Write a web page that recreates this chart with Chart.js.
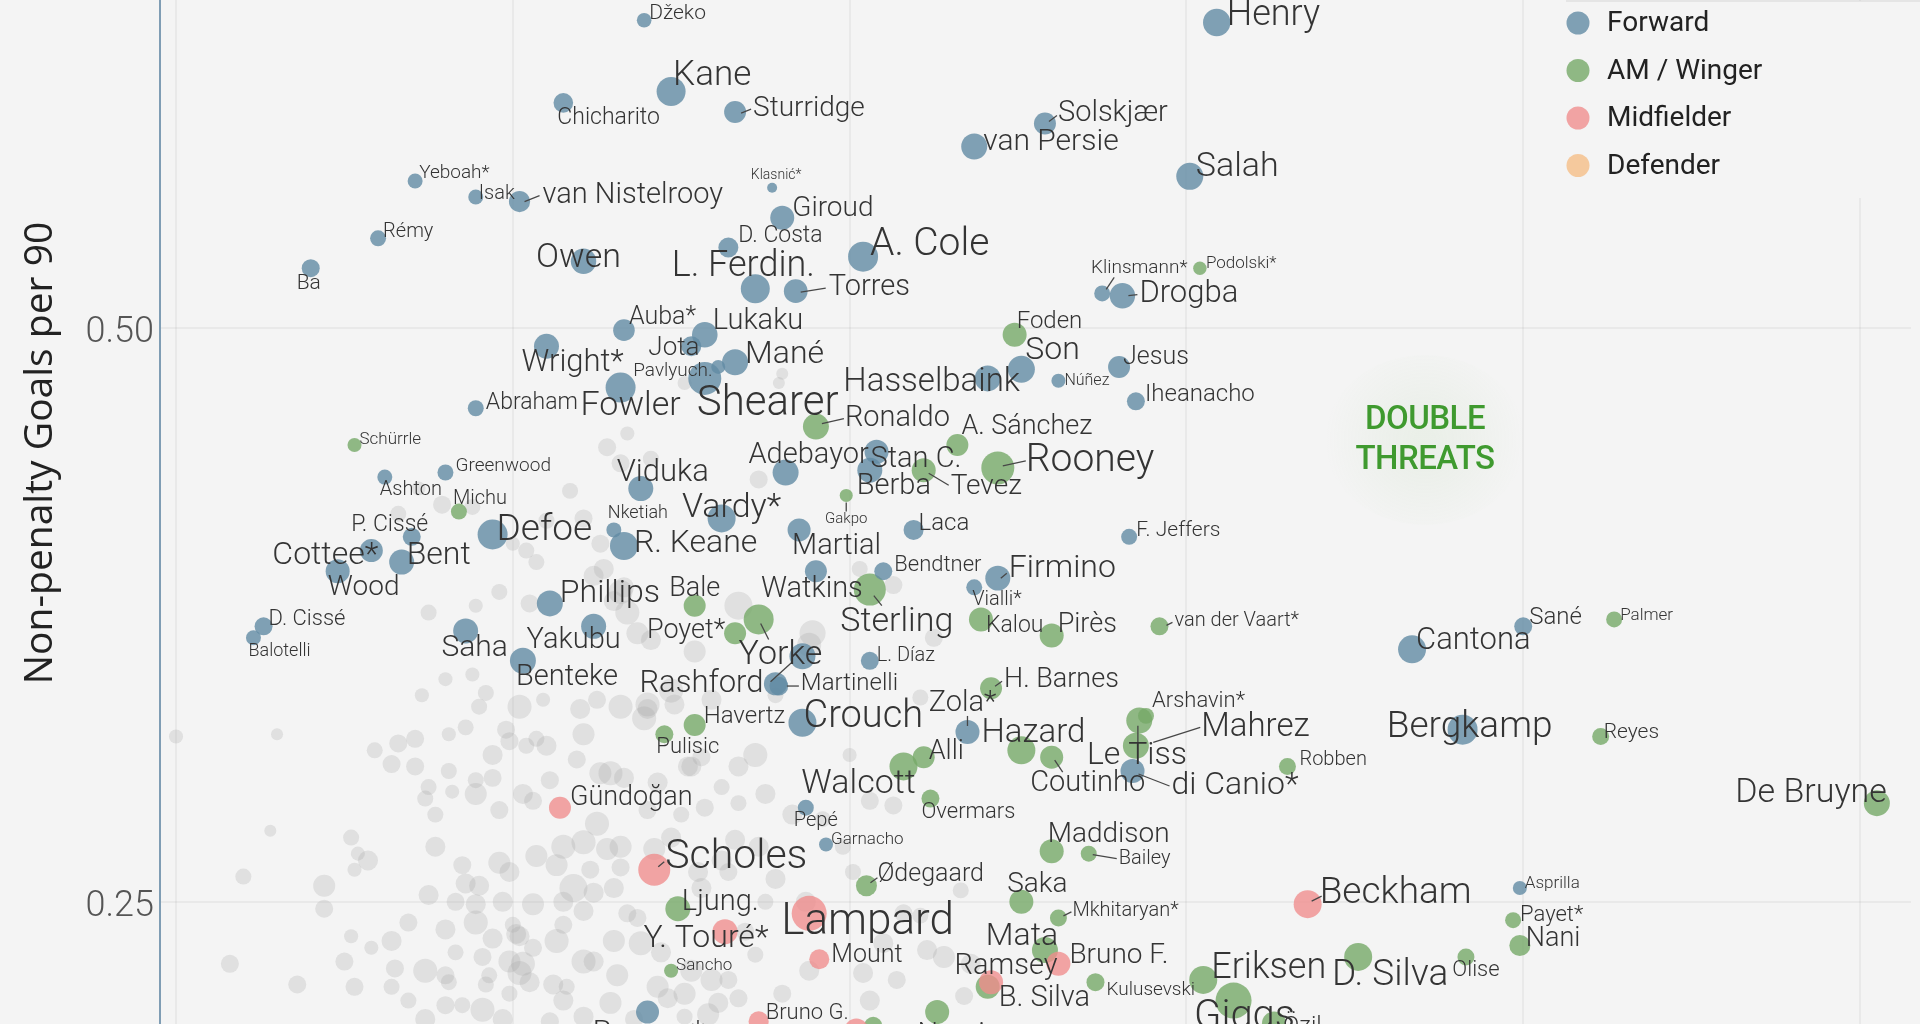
<!DOCTYPE html>
<html><head><meta charset="utf-8">
<script src="https://cdn.jsdelivr.net/npm/chart.js@4/dist/chart.umd.min.js"></script>
<style>
html,body{margin:0;padding:0;background:#f4f4f4;overflow:hidden;width:1920px;height:1024px;}
#wrap{position:absolute;left:0;top:-118px;width:1920px;height:1142px;}
</style></head><body>
<div id="wrap"><canvas id="c"></canvas></div>
<script>
// ---------- DATA ----------
const playerNames = [
'Džeko','Henry','Chicharito','Kane','Sturridge','Solskjær','van Persie','Salah','Yeboah*','Isak',
'van Nistelrooy','Klasnić*','Giroud','Rémy','D. Costa','A. Cole','Ba','Owen','L. Ferdin.','Torres',
'Klinsmann*','Podolski*','Drogba','Auba*','Lukaku','Jota','Wright*','Pavlyuch.','Shearer','Mané',
'Fowler','Abraham','Schürrle','Greenwood','Ashton','Michu','P. Cissé','Cottee*','Bent','Wood',
'Defoe','D. Cissé','Balotelli','Nketiah','Viduka','Vardy*','R. Keane','Adebayor','Gakpo','Martial',
'Watkins','Laca','F. Jeffers','Bendtner','Firmino','Vialli*','Sterling','Bale','Phillips','Yakubu',
'Saha','Benteke','Poyet*','','Yorke','Rashford','Martinelli','L. Díaz','Kalou','Pirès',
'van der Vaart*','H. Barnes','Zola*','Crouch','Havertz','Pulisic','Hazard','Alli','Walcott','Coutinho',
'Arshavin*','Mahrez','Le Tiss','di Canio*','Robben','Bergkamp','Cantona','Sané','Palmer','Reyes',
'De Bruyne','Beckham','Asprilla','Payet*','Nani','Olise','D. Silva','Eriksen','Giggs','Özil',
'Kulusevski','Ramsey','B. Silva','Mata','Bruno F.','Mkhitaryan*','Saka','Maddison','Bailey','Ødegaard',
'Overmars','Pepé','Garnacho','Gündoğan','Scholes','Ljung.','Y. Touré*','Lampard','Mount','Sancho',
'Rooney*','Bruno G.','Nasri','','','Foden','Son','Hasselbaink','Núñez','Jesus',
'Iheanacho','Ronaldo','A. Sánchez','Rooney','Stan C.','Berba','Tevez'
];
const playerRoles = [
'F','F','F','F','F','F','F','F','F','F',
'F','F','F','F','F','F','F','F','F','F',
'F','W','F','F','F','F','F','F','F','F',
'F','F','W','F','F','W','F','F','F','F',
'F','F','F','F','F','F','F','F','W','F',
'F','F','F','F','F','F','W','W','F','F',
'F','F','W','W','F','F','F','F','W','W',
'W','W','F','F','W','W','W','W','W','W',
'W','W','W','F','W','F','F','F','W','W',
'W','M','F','W','W','W','W','W','W','W',
'W','M','W','W','M','W','W','W','W','W',
'W','F','F','M','M','W','M','M','M','W',
'F','M','W','M','W','W','F','F','F','F',
'F','W','W','W','F','F','W'
];
const assistsPer90 = [
0.139,0.309,0.115,0.147,0.166,0.258,0.237,0.301,0.071,0.089,
0.102,0.177,0.180,0.060,0.164,0.204,0.040,0.121,0.172,0.184,
0.275,0.304,0.281,0.133,0.157,0.153,0.110,0.161,0.157,0.166,
0.132,0.089,0.053,0.080,0.062,0.084,0.070,0.058,0.067,0.048,
0.094,0.026,0.023,0.130,0.138,0.162,0.133,0.181,0.199,0.185,
0.190,0.219,0.283,0.210,0.244,0.237,0.206,0.154,0.111,0.124,
0.086,0.103,0.166,0.173,0.186,0.178,0.179,0.206,0.239,0.260,
0.292,0.242,0.235,0.186,0.154,0.145,0.251,0.222,0.216,0.260,
0.288,0.286,0.285,0.284,0.330,0.382,0.367,0.400,0.427,0.423,
0.505,0.336,0.399,0.397,0.399,0.383,0.351,0.305,0.314,0.326,
0.273,0.242,0.241,0.258,0.262,0.262,0.251,0.260,0.271,0.205,
0.224,0.187,0.193,0.114,0.142,0.149,0.163,0.188,0.191,0.147,
0.140,0.173,0.226,0.202,0.207,0.249,0.251,0.241,0.262,0.280,
0.285,0.190,0.232,0.244,0.208,0.206,0.222
];
const npGoalsPer90 = [
0.634,0.633,0.598,0.603,0.594,0.589,0.579,0.566,0.564,0.557,
0.555,0.561,0.548,0.539,0.535,0.531,0.526,0.529,0.517,0.516,
0.515,0.526,0.514,0.499,0.497,0.492,0.492,0.483,0.478,0.485,
0.474,0.465,0.449,0.437,0.435,0.420,0.409,0.403,0.398,0.394,
0.410,0.370,0.365,0.412,0.430,0.417,0.405,0.437,0.427,0.412,
0.394,0.412,0.409,0.394,0.391,0.387,0.386,0.379,0.380,0.370,
0.368,0.355,0.367,0.373,0.357,0.345,0.344,0.355,0.373,0.366,
0.370,0.343,0.324,0.328,0.327,0.323,0.316,0.313,0.309,0.313,
0.331,0.329,0.318,0.307,0.309,0.325,0.360,0.370,0.373,0.322,
0.293,0.249,0.256,0.242,0.231,0.226,0.226,0.216,0.207,0.197,
0.215,0.215,0.213,0.229,0.223,0.243,0.250,0.272,0.271,0.257,
0.295,0.291,0.275,0.291,0.264,0.247,0.237,0.245,0.225,0.220,
0.202,0.198,0.202,0.194,0.196,0.497,0.482,0.478,0.477,0.483,
0.468,0.457,0.449,0.439,0.446,0.438,0.438
];
const appearances = [
103,362,185,405,233,233,326,352,108,108,
217,48,278,123,193,434,156,311,405,270,
123,87,311,225,316,193,301,95,525,326,
434,123,95,123,108,123,156,255,301,278,
434,156,108,108,301,378,378,326,82,255,
233,193,123,156,301,123,494,233,326,301,
301,326,233,434,326,260,170,156,278,278,
156,233,278,378,233,156,378,233,378,255,
123,326,326,278,139,434,378,156,123,139,
326,378,95,123,213,139,378,378,625,278,
156,278,278,326,278,139,278,278,123,213,
156,123,95,233,494,301,301,590,193,95,
255,193,278,278,156,278,352,326,95,233,
156,326,233,525,278,301,278
];
const otherAssistsPer90 = [
0.000,0.030,0.059,0.066,0.071,0.081,0.086,0.064,0.071,0.081,0.075,0.089,0.096,0.073,0.080,0.088,0.092,0.090,0.098,0.094,
0.099,0.094,0.089,0.089,0.082,0.075,0.074,0.077,0.096,0.103,0.111,0.106,0.104,0.110,0.107,0.119,0.121,0.120,0.125,0.132,
0.129,0.133,0.109,0.102,0.028,0.052,0.054,0.057,0.053,0.020,0.044,0.044,0.077,0.085,0.086,0.090,0.096,0.099,0.107,0.113,
0.115,0.121,0.125,0.132,0.132,0.123,0.118,0.124,0.075,0.083,0.089,0.097,0.106,0.115,0.121,0.069,0.080,0.089,0.100,0.102,
0.094,0.115,0.113,0.130,0.064,0.052,0.058,0.050,0.065,0.074,0.083,0.091,0.099,0.103,0.121,0.131,0.016,0.036,0.053,0.064,
0.069,0.080,0.081,0.092,0.093,0.102,0.105,0.116,0.115,0.080,0.085,0.091,0.099,0.074,0.111,0.097,0.104,0.107,0.100,0.126,
0.127,0.124,0.105,0.134,0.132,0.139,0.147,0.140,0.126,0.143,0.153,0.156,0.162,0.157,0.167,0.172,0.175,0.150,0.140,0.142,
0.147,0.166,0.164,0.155,0.156,0.175,0.169,0.172,0.128,0.130,0.134,0.137,0.138,0.144,0.153,0.143,0.124,0.146,0.161,0.167,
0.151,0.106,0.101,0.112,0.121,0.129,0.136,0.158,0.164,0.213,0.225,0.221,0.200,0.189,0.188,0.154,0.141,0.140,0.148,0.159,
0.178,0.167,0.152,0.183,0.192,0.206,0.213,0.198,0.173,0.162,0.178,0.187,0.201,0.233,0.216,0.221,0.210,0.223,0.228,0.236,
0.214,0.204,0.188,0.159,0.151,0.180,0.206,0.234,0.134,0.128,0.141,0.132,0.117,0.173,0.180,0.179,0.151,0.110,0.121,0.133,
0.167,0.137,0.130,0.079,0.072,0.066,0.088,0.203
];
const otherNpGoalsPer90 = [
0.322,0.323,0.316,0.319,0.321,0.323,0.326,0.310,0.309,0.307,0.376,0.379,0.385,0.340,0.347,0.349,0.341,0.335,0.325,0.314,
0.320,0.304,0.303,0.297,0.298,0.300,0.295,0.288,0.290,0.297,0.303,0.294,0.318,0.318,0.321,0.312,0.323,0.334,0.338,0.335,
0.306,0.304,0.338,0.335,0.281,0.278,0.271,0.268,0.264,0.261,0.257,0.247,0.274,0.266,0.258,0.257,0.267,0.263,0.270,0.266,
0.274,0.276,0.284,0.274,0.265,0.264,0.256,0.254,0.253,0.250,0.249,0.250,0.249,0.250,0.246,0.241,0.238,0.241,0.240,0.235,
0.234,0.240,0.233,0.233,0.233,0.235,0.230,0.224,0.221,0.220,0.228,0.226,0.224,0.223,0.224,0.218,0.223,0.214,0.213,0.213,
0.207,0.218,0.215,0.214,0.218,0.219,0.215,0.213,0.207,0.205,0.205,0.203,0.210,0.199,0.198,0.199,0.403,0.398,0.406,0.406,
0.395,0.392,0.380,0.376,0.385,0.330,0.342,0.336,0.306,0.302,0.309,0.313,0.300,0.291,0.293,0.314,0.297,0.288,0.290,0.273,
0.278,0.277,0.263,0.263,0.256,0.250,0.237,0.227,0.273,0.256,0.245,0.243,0.232,0.228,0.220,0.213,0.224,0.208,0.206,0.208,
0.200,0.230,0.236,0.214,0.200,0.206,0.199,0.201,0.216,0.388,0.365,0.339,0.314,0.367,0.362,0.359,0.364,0.334,0.336,0.338,
0.340,0.309,0.309,0.288,0.286,0.294,0.292,0.274,0.274,0.268,0.260,0.250,0.263,0.255,0.245,0.244,0.232,0.229,0.226,0.223,
0.216,0.219,0.220,0.216,0.210,0.210,0.207,0.209,0.454,0.448,0.443,0.441,0.429,0.434,0.480,0.476,0.476,0.416,0.417,0.387,
0.379,0.367,0.381,0.423,0.430,0.419,0.422,0.395
];
const otherAppearances = [
95,69,123,156,156,95,123,156,156,123,123,95,123,95,95,95,123,123,156,193,
156,156,123,233,95,123,123,123,156,193,156,156,123,193,123,156,233,193,156,278,
278,193,95,278,69,123,95,193,95,123,233,156,193,156,193,193,233,193,233,233,
278,278,278,233,156,156,378,193,193,156,193,193,233,193,193,156,193,278,123,193,
193,156,278,233,193,95,95,156,156,278,123,156,233,278,278,233,156,156,156,123,
123,156,123,123,123,278,193,123,193,156,123,278,123,193,156,193,123,123,95,156,
193,193,156,278,278,278,278,278,233,193,193,156,123,156,123,278,193,123,156,233,
193,193,156,193,193,123,156,123,233,193,156,156,278,193,233,233,193,193,193,156,
123,156,193,193,193,233,156,233,156,156,156,123,95,326,278,233,193,193,193,193,
123,193,193,193,123,156,156,123,193,193,193,193,123,123,156,123,193,193,233,193,
156,193,193,233,233,156,193,156,95,156,123,156,123,156,69,69,95,123,156,193,
378,233,193,156,95,123,123,123
];
const roleCodes = ['F','W','M','D'];
const legendLabels = ['Forward','AM / Winger','Midfielder','Defender'];
const yTickValues = [0.25, 0.50];
const axisTitle = 'Non-penalty Goals per 90';
const annotationLines = ['DOUBLE','THREATS'];

// ---------- STYLE / LAYOUT (not data) ----------
const roleColors = {F:'rgba(98,139,164,0.8)', W:'rgba(117,169,104,0.8)', M:'rgba(240,140,140,0.78)', D:'rgba(245,190,135,0.8)'};
const otherColor = 'rgba(165,165,165,0.25)';
// [dx, dy, align, fontSize, leader]
const labelLayout = [
[5,-6,'l',21],[10,-7,'l',36],[-6,15,'l',23],[2,-15,'l',35],[18,-3,'l',28,[6,1,16,-3]],[13,-10,'l',29,[4,-2,12,-8]],[9,-4,'l',30],[6,-9,'l',34],[4,-8,'l',19],[3,-3,'l',20],
[23,-6,'l',29,[5,0,20,-6]],[4,-12,'c',14],[10,-9,'l',28],[5,-6,'l',20],[10,-11,'l',23],[7,-11,'l',39],[-2,16,'c',21],[-5,-3,'c',34],[-12,-22,'c',36],[33,-3,'l',29,[5,1,30,-3]],
[37,-25,'c',19,[4,-4,12,-16]],[6,-4,'l',17],[17,-1,'l',31,[6,0,15,-1]],[5,-12,'l',25],[8,-13,'l',29],[-43,2,'l',26],[-25,17,'l',31],[-85,4,'l',19],[-8,26,'l',42],[10,-7,'l',32],
[-40,19,'l',34],[10,-5,'l',23],[5,-5,'l',17],[10,-6,'l',19],[-5,13,'l',20],[-6,-13,'l',20],[-22,-12,'c',23],[7,5,'r',32],[5,-6,'l',32],[26,17,'c',28],
[4,-4,'l',37],[5,-7,'l',22],[-5,14,'l',18],[-6,-16,'l',18],[22,-15,'c',31],[10,-10,'c',34],[10,-2,'l',32],[23,-17,'c',29],[0,24,'c',15,[0,7,0,16]],[-7,17,'l',29],
[-4,19,'c',29],[5,-6,'l',24],[7,-6,'l',21],[11,-6,'l',22],[11,-9,'l',32,[3,0,9,-5]],[-2,13,'l',20],[27,33,'c',34,[4,6,12,16]],[0,-16,'c',27],[10,-9,'l',32],[-20,14,'c',29],
[9,18,'c',30],[-7,17,'l',29],[-10,-2,'r',27],[0,0,'c',0,[2,4,10,20]],[-22,-1,'c',34],[-12,1,'r',31,[-5,-2,17,-22]],[22,-2,'l',24,[8,0,20,0]],[7,-5,'l',20],[5,7,'l',23],[6,-10,'l',27],
[15,-5,'l',20,[7,-1,13,-4]],[13,-8,'l',27,[4,-2,11,-7]],[-5,-28,'c',29,[0,-6,0,-16]],[1,-5,'l',38],[9,-8,'l',24],[-8,13,'l',22],[12,-17,'c',33],[5,-5,'l',27],[-45,18,'c',34],[36,27,'c',29,[3,3,11,15]],
[6,-14,'l',22],[62,7,'l',33,[14,22,61,7]],[1,10,'c',32,[2,-20,2,-3]],[39,15,'l',32,[6,3,37,15]],[12,-6,'l',20],[7,-2,'c',37],[4,-8,'l',31],[6,-8,'l',24],[6,-4,'l',17],[3,-4,'l',21],
[10,-10,'r',34],[12,-10,'l',37,[4,-3,14,-8]],[5,-4,'l',17],[7,-5,'l',22],[6,-6,'l',27],[10,14,'c',22],[32,19,'c',37],[8,-11,'l',36],[11,17,'c',40],[9,3,'l',24],
[11,8,'l',19],[15,-15,'c',29],[11,12,'l',29],[-23,-13,'c',32],[11,-8,'l',28],[14,-7,'l',20,[5,-2,13,-6]],[16,-17,'c',28],[-4,-16,'l',28],[30,5,'l',20,[4,1,28,5]],[11,-11,'l',25,[4,-3,11,-8]],
[-9,14,'l',22],[10,13,'c',20],[5,-5,'l',17],[10,-9,'l',27],[11,-12,'l',41,[4,-3,10,-8]],[4,-6,'l',29],[-19,7,'c',32],[-28,10,'l',44],[12,-4,'l',25],[5,-5,'l',17],
[1,21,'c',30],[7,-8,'l',22],[14,24,'c',29],[0,0,'c',0],[0,0,'c',0],[2,-13,'l',24],[4,-18,'l',32],[-56,4,'c',33],[6,0,'l',16],[4,-9,'l',25],
[9,-6,'l',24],[29,-8,'l',29,[6,-3,28,-8]],[4,-18,'l',27],[28,-7,'l',39,[5,-2,28,-7]],[-6,8,'l',29],[-13,17,'l',29],[27,17,'l',28,[5,3,25,15]]
];
const LABEL_FONT = 'Roboto, "Liberation Sans", sans-serif';
const radiusOf = a => 0.72 * Math.sqrt(a);

// ---------- DATASETS ----------
const datasets = [];
datasets.push({
  label: 'Other', order: 10, backgroundColor: otherColor, borderWidth: 0, clip: false,
  data: otherAssistsPer90.map((x, i) => ({x, y: otherNpGoalsPer90[i], r: radiusOf(otherAppearances[i])}))
});
const roleOrder = {W: 4, F: 3, M: 2, D: 1};
roleCodes.forEach(code => {
  const data = [];
  playerNames.forEach((n, i) => {
    if (playerRoles[i] === code) data.push({x: assistsPer90[i], y: npGoalsPer90[i], r: radiusOf(appearances[i])});
  });
  datasets.push({label: code, order: roleOrder[code], backgroundColor: roleColors[code], borderWidth: 0, clip: false, data});
});

// ---------- PLUGINS ----------
const labelPlugin = {
  id: 'playerLabels',
  afterDatasetsDraw(chart) {
    const ctx = chart.ctx, xs = chart.scales.x, ys = chart.scales.y;
    ctx.save();
    ctx.strokeStyle = '#474747'; ctx.lineWidth = 1.3;
    playerNames.forEach((n, i) => {
      const L = labelLayout[i];
      if (!L[4]) return;
      const px = xs.getPixelForValue(assistsPer90[i]), py = ys.getPixelForValue(npGoalsPer90[i]);
      ctx.beginPath(); ctx.moveTo(px + L[4][0], py + L[4][1]); ctx.lineTo(px + L[4][2], py + L[4][3]); ctx.stroke();
    });
    ctx.fillStyle = '#343434'; ctx.textBaseline = 'middle';
    const al = {l: 'left', c: 'center', r: 'right'};
    playerNames.forEach((n, i) => {
      if (!n) return;
      const L = labelLayout[i];
      const px = xs.getPixelForValue(assistsPer90[i]), py = ys.getPixelForValue(npGoalsPer90[i]);
      ctx.font = '300 ' + L[3] + 'px ' + LABEL_FONT;
      ctx.textAlign = al[L[2]];
      ctx.fillText(n, px + L[0], py + L[1]);
    });
    ctx.restore();
  }
};
const overlayPlugin = {
  id: 'overlay',
  afterDraw(chart) {
    const ctx = chart.ctx;
    const off = 118; // canvas offset vs page
    ctx.save();
    ctx.fillStyle = '#f4f4f4';
    ctx.fillRect(1566, off + 1, 360, 197);
    ctx.strokeStyle = 'rgba(0,0,0,0.06)'; ctx.lineWidth = 2;
    ctx.beginPath(); ctx.moveTo(1566, off + 1); ctx.lineTo(1920, off + 1); ctx.stroke();
    const cols = [roleColors.F, roleColors.W, roleColors.M, roleColors.D];
    legendLabels.forEach((t, k) => {
      const cy = off + 23 + k * 47.5;
      ctx.fillStyle = cols[k];
      ctx.beginPath(); ctx.arc(1578, cy, 11.5, 0, Math.PI * 2); ctx.fill();
      ctx.fillStyle = '#222'; ctx.font = '28px ' + LABEL_FONT;
      ctx.textAlign = 'left'; ctx.textBaseline = 'middle';
      ctx.fillText(t, 1607, cy + 1);
    });
    const cx = 1425, cy = off + 440;
    const g = ctx.createRadialGradient(cx, cy, 10, cx, cy, 100);
    g.addColorStop(0, 'rgba(150,200,130,0.10)');
    g.addColorStop(1, 'rgba(150,200,130,0)');
    ctx.fillStyle = g;
    ctx.beginPath(); ctx.ellipse(cx, cy, 100, 85, 0, 0, Math.PI * 2); ctx.fill();
    ctx.fillStyle = '#3f9a2f';
    ctx.font = '500 33px ' + LABEL_FONT;
    ctx.textAlign = 'center'; ctx.textBaseline = 'middle';
    if ('letterSpacing' in ctx) ctx.letterSpacing = '-0.5px';
    ctx.fillText(annotationLines[0], cx, off + 421);
    ctx.fillText(annotationLines[1], cx, off + 461);
    ctx.restore();
  }
};

// ---------- CHART ----------
new Chart(document.getElementById('c'), {
  type: 'bubble',
  data: {datasets},
  plugins: [labelPlugin, overlayPlugin],
  options: {
    responsive: true, maintainAspectRatio: false, animation: false, devicePixelRatio: 1,
    events: [],
    layout: {autoPadding: false, padding: {left: 0, right: 9, top: 0, bottom: 0}},
    plugins: {legend: {display: false}, tooltip: {enabled: false}},
    scales: {
      x: {
        type: 'linear', min: -0.00475, max: 0.51514,
        ticks: {display: false, stepSize: 0.1, includeBounds: false},
        grid: {color: 'rgba(0,0,0,0.045)', lineWidth: 2, drawTicks: false},
        border: {display: false},
        afterFit: s => { s.height = 0; s.paddingLeft = 0; s.paddingRight = 0; s.paddingTop = 0; s.paddingBottom = 0; }
      },
      y: {
        type: 'linear', min: 0.1968, max: 0.6942,
        afterBuildTicks: s => { s.ticks = yTickValues.map(v => ({value: v})); },
        ticks: {padding: 6, labelOffset: 5, color: '#555', font: {family: LABEL_FONT, size: 36, weight: '300'}, callback: v => v.toFixed(2)},
        grid: {color: 'rgba(0,0,0,0.045)', lineWidth: 2, drawTicks: false},
        border: {display: true, color: '#7f9db4', width: 2},
        title: {display: true, text: axisTitle, color: '#222', font: {family: '"Open Sans", sans-serif', size: 39}, padding: {top: 17, bottom: 0}},
        afterFit: s => { s.width = 160; s.paddingTop = 0; s.paddingBottom = 0; s.paddingLeft = 0; s.paddingRight = 0; }
      }
    }
  }
});
</script>
</body></html>
